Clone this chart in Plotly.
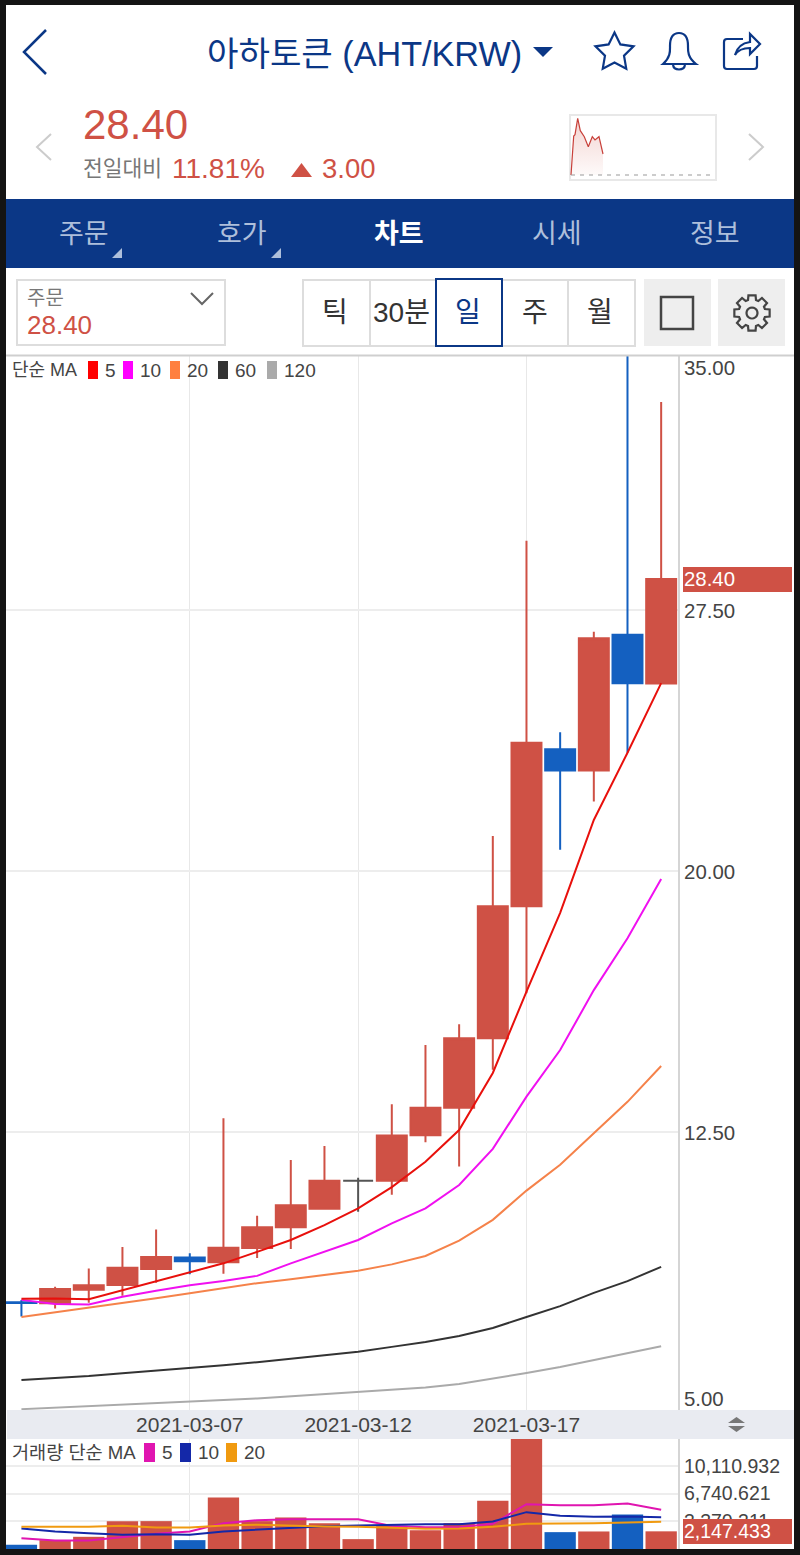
import math
import plotly.graph_objects as go

FONT = "Liberation Sans, Noto Sans CJK KR"
NAVY = "#0B3786"
RED = "#CF5145"
BLUE = "#1460C0"
GREY = "#444444"

dates = ["2021-03-%02d" % d for d in range(2, 22)]
opens = [7.62, 7.59, 7.98, 8.12, 8.58, 8.91, 8.77, 9.18, 9.78, 10.31,
         11.11, 11.11, 12.42, 13.21, 15.21, 19.00, 23.51, 22.90, 26.80, 25.40]
highs = [7.69, 8.07, 8.59, 9.21, 9.71, 9.03, 12.91, 10.11, 11.71, 12.11,
         11.20, 13.31, 15.01, 15.61, 21.02, 29.50, 24.00, 26.89, 36.00, 33.49]
lows = [7.21, 7.44, 7.61, 7.81, 8.18, 8.43, 8.44, 8.89, 9.15, 10.31,
        10.22, 10.71, 12.22, 11.52, 14.30, 16.50, 20.62, 22.01, 23.41, 25.40]
closes = [7.60, 8.00, 8.11, 8.61, 8.92, 8.80, 9.19, 9.78, 10.41, 11.11,
          11.11, 12.41, 13.21, 15.21, 19.00, 23.70, 22.90, 26.70, 25.41, 28.40]

ma5 = [7.72, 7.73, 7.71, 7.97, 8.21, 8.48, 8.74, 9.07, 9.41, 9.84,
       10.32, 10.93, 11.66, 12.57, 14.21, 16.55, 18.81, 21.48, 23.41, 25.41]
ma10 = [7.69, 7.57, 7.56, 7.78, 7.95, 8.11, 8.23, 8.38, 8.74, 9.07,
        9.41, 9.89, 10.32, 10.99, 12.03, 13.53, 14.87, 16.59, 18.08, 19.78]
ma20 = [7.20, 7.33, 7.47, 7.61, 7.74, 7.88, 8.02, 8.17, 8.28, 8.40,
        8.53, 8.71, 8.95, 9.39, 9.99, 10.83, 11.57, 12.48, 13.38, 14.41]
ma60 = [5.39, 5.44, 5.50, 5.58, 5.65, 5.73, 5.81, 5.90, 6.00, 6.10,
        6.20, 6.34, 6.48, 6.65, 6.88, 7.20, 7.51, 7.89, 8.23, 8.64]
ma120 = [4.55, 4.59, 4.63, 4.67, 4.71, 4.76, 4.81, 4.86, 4.92, 4.98,
         5.03, 5.10, 5.17, 5.27, 5.42, 5.59, 5.76, 5.96, 6.16, 6.36]

volume = [510, 1077, 1482, 3386, 3386, 1077, 6261, 3386, 3831, 3143,
          1199, 2819, 2292, 3143, 5856, 14000, 2049, 2130, 4196, 2147.433]
vol_ma5 = [1320, 1037, 1037, 1482, 1843, 2130, 3143, 3503, 3625, 3625,
           3625, 2800, 2657, 2657, 3062, 5451, 5330, 5330, 5532, 4763]
vol_ma10 = [2495, 2130, 1928, 1725, 1806, 1725, 2130, 2333, 2616, 2778,
            2859, 2981, 3021, 3021, 3345, 4479, 4034, 3912, 3953, 3872]
vol_ma20 = [2697, 2697, 2697, 2819, 2616, 2616, 2859, 2940, 2819, 2738,
            2697, 2576, 2454, 2495, 2697, 3062, 3062, 3143, 3224, 3305]

price_ticks = [27.5, 20, 12.5]
vol_ticks = [3370.311, 6740.621, 10110.932]
date_ticks = ["2021-03-07", "2021-03-12", "2021-03-17"]

spark_x = [1, 3.7, 5, 7.7, 10.3, 14.3, 18.3, 22.3, 25, 29, 33]
spark_y = [0, 39, 40.3, 56.7, 44.3, 38.3, 28.3, 38.3, 35, 38.3, 21]
spark_base = [0, 0]


def px(x):
    return x / 800


def py(y):
    return 1 - y / 1555


def pts(*xy):
    return " L ".join("%.5f,%.5f" % (px(x), py(y)) for x, y in xy)


def rect(x0, y0, x1, y1, fill=None, line=None, width=1, layer="above"):
    return dict(type="rect", xref="paper", yref="paper", layer=layer,
                x0=px(x0), x1=px(x1), y0=py(y0), y1=py(y1),
                fillcolor=fill or "rgba(0,0,0,0)",
                line=dict(color=line or "rgba(0,0,0,0)", width=width if line else 0))


def poly(points, fill=None, line=None, width=2, close=False):
    path = "M " + pts(*points) + (" Z" if close else "")
    return dict(type="path", xref="paper", yref="paper", path=path,
                fillcolor=fill or "rgba(0,0,0,0)",
                line=dict(color=line or "rgba(0,0,0,0)", width=width if line else 0))


def curve(path, line=NAVY, width=2.5):
    # path given in screen pixels as (command, x, y, ...) tokens
    out = []
    is_x = True
    for tok in path.split():
        if tok.isalpha():
            out.append(tok)
            is_x = True
        else:
            out.append("%.5f" % (px(float(tok)) if is_x else py(float(tok))))
            is_x = not is_x
    return dict(type="path", xref="paper", yref="paper", path=" ".join(out),
                fillcolor="rgba(0,0,0,0)", line=dict(color=line, width=width))


def label(text, x, y, size, color=GREY, anchor="left", bold=False):
    if bold:
        text = "<b>" + text + "</b>"
    return dict(text=text, x=px(x), y=py(y), xref="paper", yref="paper", showarrow=False,
                xanchor=anchor, yanchor="middle", borderpad=0, borderwidth=0,
                font=dict(family=FONT, size=size, color=color))


shapes = []
notes = []

# page
shapes.append(rect(6, 5, 794, 1549, fill="white", layer="below"))

# header
shapes.append(poly([(46, 30), (24, 52), (46, 74)], line=NAVY, width=2.5))
notes.append(label("아하토큰 (AHT/KRW)", 207, 54, 34.2, NAVY))
shapes.append(poly([(533, 47), (553, 47), (543, 57)], fill=NAVY, close=True))

star = []
for k in range(10):
    r = 20 if k % 2 == 0 else 10
    a = -math.pi / 2 + k * math.pi / 5
    star.append((614.5 + r * math.cos(a), 52.5 + r * math.sin(a)))
shapes.append(poly(star, line=NAVY, width=2.2, close=True))

shapes.append(curve("M 663 64 C 671 57 670 50 670 46 C 670 38 673 33 679 33 "
                    "C 685 33 688 38 688 46 C 688 50 687 57 696 64 Z", width=2.2))
shapes.append(curve("M 673 65 C 674 71 684 71 685 65", width=2.2))
shapes.append(curve("M 743 39 L 727 39 Q 724 39 724 42 L 724 66 Q 724 69 727 69 "
                    "L 754 69 Q 757 69 757 66 L 757 56", width=2.2))
shapes.append(curve("M 735 55 C 737 47 743 43 750 42 L 750 34 L 760 44 L 750 54 "
                    "L 750 48 C 744 48 738 50 735 55 Z", width=2.2))

# price row
notes.append(label("28.40", 83, 124, 42, RED))
notes.append(label("전일대비", 83, 169, 21.5, "#777777"))
notes.append(label("11.81%", 172, 168, 28, RED))
shapes.append(poly([(291, 177), (312, 177), (301.5, 163)], fill=RED, close=True))
notes.append(label("3.00", 322, 168, 27.5, RED))
shapes.append(poly([(51, 134), (37, 147), (51, 160)], line="#CCCCCC", width=2))
shapes.append(poly([(749, 134), (763, 147), (749, 160)], line="#CCCCCC", width=2))
shapes.append(rect(570, 115, 716, 180, line="#E8E8E8", width=2, layer="below"))

# tab bar
shapes.append(rect(6, 199, 794, 268, fill=NAVY, layer="below"))
for text, cx in [("주문", 84), ("호가", 242), ("시세", 557), ("정보", 715)]:
    notes.append(label(text, cx, 234.5, 27, "#AEBFDB", anchor="center"))
notes.append(label("차트", 399, 234.5, 27, "white", anchor="center", bold=True))
shapes.append(poly([(122, 248), (122, 258), (112, 258)], fill="#AEBFDB", close=True))
shapes.append(poly([(281, 248), (281, 258), (271, 258)], fill="#AEBFDB", close=True))

# order box
shapes.append(rect(17, 280, 225, 345, line="#DDDDDD", width=2))
notes.append(label("주문", 27, 298, 20, "#777777"))
notes.append(label("28.40", 27, 325, 26, RED))
shapes.append(poly([(191, 293), (202, 304), (213, 293)], line="#666666", width=2))

# period buttons
shapes.append(rect(303, 280, 635, 346, line="#DDDDDD", width=2))
for x in [370, 502, 568]:
    shapes.append(poly([(x, 280), (x, 346)], line="#DDDDDD", width=2))
shapes.append(rect(436, 279, 502, 346, fill="white", line=NAVY, width=2))
for text, cx in [("틱", 335), ("30분", 402), ("주", 535), ("월", 600)]:
    notes.append(label(text, cx, 313, 28, "#333333", anchor="center"))
notes.append(label("일", 468, 313, 28, NAVY, anchor="center"))

# layout and settings buttons
shapes.append(rect(644, 279, 711, 346, fill="#EEEEEE", layer="below"))
shapes.append(rect(661, 297, 693, 329, line="#444444", width=2.5))
shapes.append(rect(718, 279, 785, 346, fill="#EEEEEE", layer="below"))
gear = []
for k in range(8):
    a = -math.pi / 2 + k * math.pi / 4
    for da, r in [(-0.30, 13.5), (-0.20, 18), (0.20, 18), (0.30, 13.5)]:
        gear.append((752 + r * math.cos(a + da), 313 + r * math.sin(a + da)))
shapes.append(poly(gear, line="#444444", width=2.2, close=True))
ring = [(752 + 5.5 * math.cos(k * math.pi / 10), 313 + 5.5 * math.sin(k * math.pi / 10))
        for k in range(20)]
shapes.append(poly(ring, line="#444444", width=2.2, close=True))

# chart frame
shapes.append(poly([(6, 355.5), (794, 355.5)], line="#CFCFCF", width=2))
shapes.append(rect(7, 1410, 794, 1439, fill="#E9EBF1", layer="below"))
shapes.append(poly([(728, 1423), (745, 1423), (736.5, 1417)], fill="#777777", close=True))
shapes.append(poly([(728, 1426), (745, 1426), (736.5, 1432)], fill="#777777", close=True))

# price legend
notes.append(label("단순 MA", 12, 370, 18))
for col, sx, text in [("#FF0000", 88, "5"), ("#FF00FF", 123, "10"), ("#FF8040", 170, "20"),
                      ("#333333", 218, "60"), ("#AAAAAA", 267, "120")]:
    shapes.append(rect(sx, 361, sx + 10, 379, fill=col))
    notes.append(label(text, sx + 17, 370, 19))

# volume legend
notes.append(label("거래량 단순 MA", 12, 1452, 18.6))
for col, sx, text in [("#E015B0", 144, "5"), ("#1428A8", 180, "10"), ("#F09A10", 226, "20")]:
    shapes.append(rect(sx, 1443, sx + 11, 1462, fill=col))
    notes.append(label(text, sx + 18, 1452, 19))

notes.append(label("35.00", 684, 368, 20.4))
notes.append(label("5.00", 684, 1399, 20.4))

# last value tags
shapes.append(rect(683, 567, 792, 592, fill=RED))
shapes.append(rect(683, 1519, 792, 1544, fill=RED))
notes.append(dict(text="28.40", x=px(682), y=closes[-1], xref="paper", yref="y", showarrow=False,
                  xanchor="left", yanchor="middle", font=dict(family=FONT, size=20.4, color="white")))
notes.append(dict(text="2,147.433", x=px(682), y=volume[-1], xref="paper", yref="y2", showarrow=False,
                  xanchor="left", yanchor="middle", font=dict(family=FONT, size=19.5, color="white")))

fig = go.Figure()


def candles(idx, color):
    fig.add_trace(go.Candlestick(
        x=[dates[i] for i in idx], open=[opens[i] for i in idx], high=[highs[i] for i in idx],
        low=[lows[i] for i in idx], close=[closes[i] for i in idx],
        increasing=dict(line=dict(color=color, width=2), fillcolor=color),
        decreasing=dict(line=dict(color=color, width=2), fillcolor=color),
        whiskerwidth=0, showlegend=False, xaxis="x", yaxis="y"))


up = [i for i in range(20) if closes[i] > opens[i]]
down = [i for i in range(20) if closes[i] < opens[i]]
flat = [i for i in range(20) if closes[i] == opens[i]]
candles(up, RED)
candles(down, BLUE)
candles(flat, "#555555")

for vals, col, w in [(ma120, "#AAAAAA", 2), (ma60, "#333333", 2), (ma20, "#F5824A", 2),
                     (ma10, "#F010F0", 2), (ma5, "#E8100C", 2)]:
    fig.add_trace(go.Scatter(x=dates, y=vals, mode="lines", line=dict(color=col, width=w),
                             showlegend=False, xaxis="x", yaxis="y"))

bar_colors = [BLUE if closes[i] < opens[i] else RED for i in range(20)]
fig.add_trace(go.Bar(x=dates, y=volume, marker=dict(color=bar_colors, line=dict(width=0)),
                     showlegend=False, xaxis="x2", yaxis="y2"))
for vals, col in [(vol_ma5, "#E015B0"), (vol_ma10, "#1428A8"), (vol_ma20, "#F09A10")]:
    fig.add_trace(go.Scatter(x=dates, y=vals, mode="lines", line=dict(color=col, width=2),
                             showlegend=False, xaxis="x2", yaxis="y2"))

fig.add_trace(go.Scatter(x=spark_x, y=spark_y, mode="lines", line=dict(color="#C8403A", width=1.2),
                         fill="tozeroy",
                         fillgradient=dict(type="vertical",
                                           colorscale=[[0, "rgba(207,81,69,0.03)"], [1, "rgba(207,81,69,0.25)"]]),
                         showlegend=False, xaxis="x3", yaxis="y3"))
fig.add_trace(go.Scatter(x=[1, 144], y=spark_base, mode="lines",
                         line=dict(color="#999999", width=1, dash="4px,5px"),
                         showlegend=False, xaxis="x3", yaxis="y3"))

x_range = ["2021-03-01 13:00", "2021-03-21 12:00"]
tick_font = dict(family=FONT, size=20.4, color=GREY)
date_font = dict(family=FONT, size=21, color=GREY)
vol_font = dict(family=FONT, size=19.5, color=GREY)

fig.update_layout(
    width=800, height=1555, margin=dict(l=0, r=0, t=0, b=0),
    paper_bgcolor="#141414", plot_bgcolor="rgba(0,0,0,0)",
    font=dict(family=FONT), barmode="overlay", bargap=0.07, boxgap=0.11, boxgroupgap=0,
    shapes=shapes, annotations=notes, hovermode=False,
    xaxis=dict(domain=[px(6), px(678)], range=x_range, type="date", tickmode="array",
               tickvals=date_ticks, tickformat="%Y-%m-%d", ticks="", showgrid=True,
               gridcolor="#E8E8E8", gridwidth=1, zeroline=False, rangeslider=dict(visible=False),
               tickfont=date_font, anchor="y", ticklabelstandoff=0, showline=False),
    yaxis=dict(domain=[py(1410), py(356)], range=[4.526, 34.81], side="right", anchor="x",
               tickmode="array", tickvals=price_ticks, tickformat=".2f", ticks="",
               showgrid=True, gridcolor="#EDEDED", gridwidth=1.5, zeroline=False,
               tickfont=tick_font, showline=True, linecolor="#D5D5D5", linewidth=2,
               ticklabelstandoff=0),
    xaxis2=dict(domain=[px(6), px(678)], range=x_range, type="date", tickmode="array",
                tickvals=date_ticks, showticklabels=False, ticks="", showgrid=True,
                gridcolor="#E8E8E8", gridwidth=1, zeroline=False, anchor="y2"),
    yaxis2=dict(domain=[py(1549), py(1439)], range=[0, 13365], side="right", anchor="x2",
                tickmode="array", tickvals=vol_ticks, tickformat=",.3f", ticks="",
                showgrid=True, gridcolor="#EDEDED", gridwidth=1.5, zeroline=False,
                tickfont=vol_font, showline=True, linecolor="#D5D5D5", linewidth=2,
                ticklabelstandoff=0),
    xaxis3=dict(domain=[px(570), px(716)], range=[0, 146], visible=False, anchor="y3"),
    yaxis3=dict(domain=[py(180), py(115)], range=[-5, 60], visible=False, anchor="x3"),
)

fig.write_html("out.html", config={"displayModeBar": False},
               post_script="document.body.style.margin='0';")
